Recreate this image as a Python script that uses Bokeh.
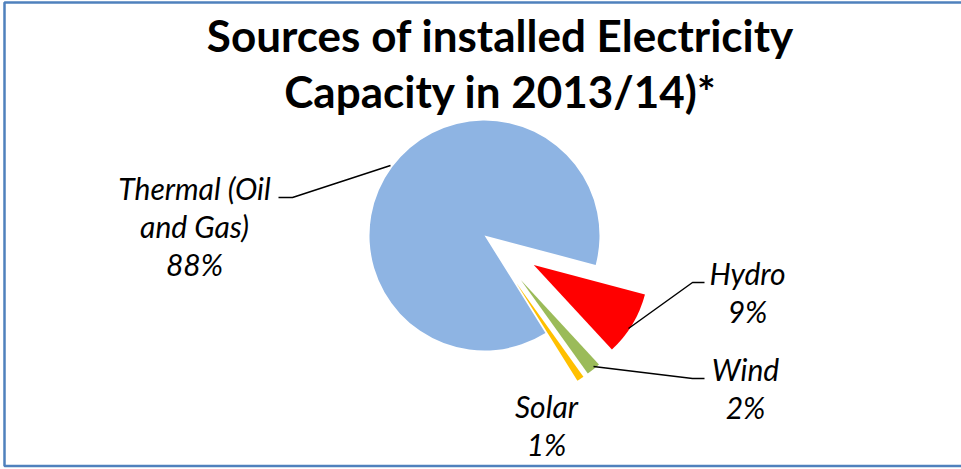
import math
from bokeh.plotting import figure
from bokeh.models import Range1d, ColumnDataSource
from bokeh.core.properties import value
from bokeh.embed import file_html
from bokeh.resources import INLINE

# ---- data ----
categories = ["Thermal (Oil and Gas)", "Hydro", "Wind", "Solar"]
label_lines = [["Thermal (Oil", "and Gas)"], ["Hydro"], ["Wind"], ["Solar"]]
shares = [88, 9, 2, 1]
colors = ["#8EB4E3", "#FF0000", "#9BBB59", "#FFC000"]
title_lines = ["Sources of installed Electricity", "Capacity in 2013/14)*"]

# ---- layout ----
W, H = 961, 469
def Y(y):
    return H - y

CX, CY, R = 484, 235, 115
START_DEG = 302.0          # first slice angle (math degrees), clockwise
EXPLODE = [0.0, 0.5, 0.5, 0.5]

p = figure(width=W, height=H, output_backend="svg", toolbar_location=None,
           x_range=Range1d(0, W), y_range=Range1d(0, H),
           x_axis_location=None, y_axis_location=None, min_border=0,
           background_fill_color="white", border_fill_color="white")
p.outline_line_color = None
p.grid.visible = False

# pie slices
total = float(sum(shares))
xs, ys, sa, ea = [], [], [], []
cur = START_DEG
for s, ex in zip(shares, EXPLODE):
    span = 360.0 * s / total
    start = cur
    end = cur - span
    mid = math.radians((start + end) / 2.0)
    xs.append(CX + ex * R * math.cos(mid))
    ys.append(Y(CY) + ex * R * math.sin(mid))
    sa.append(math.radians(start))
    ea.append(math.radians(end))
    cur = end

src = ColumnDataSource(dict(x=xs, y=ys, start=sa, end=ea, color=colors, cat=categories))
p.wedge(x="x", y="y", radius=R, start_angle="start", end_angle="end",
        direction="clock", fill_color="color", line_color=None, source=src)

# title
for i, t in enumerate(title_lines):
    p.text(x=[500], y=[Y(34 + 56 * i)], text=[t], text_font=value("Lato"),
           text_font_size=value("44px"), text_font_style="bold",
           text_align="center", text_baseline="alphabetic", text_color="black")

# data labels
anchors = [(194, 197), (747, 282), (745, 378), (546, 415)]
LS = 38
for (ax, ay), lines, s in zip(anchors, label_lines, shares):
    all_lines = lines + [f"{s}%"]
    for j, t in enumerate(all_lines):
        p.text(x=[ax], y=[Y(ay - 10 + LS * j)], text=[t], text_font=value("Lato"),
               text_font_size=value("30px"), text_font_style="italic",
               text_align="center", text_baseline="alphabetic", text_color="black")

# leader lines
leaders = [
    [(278, 197), (292, 197), (390, 165)],
    [(704, 282), (692, 282), (628, 328)],
    [(704, 378), (692, 378), (593, 366)],
]
for pts in leaders:
    p.line(x=[a for a, b in pts], y=[Y(b) for a, b in pts], line_color="black", line_width=1.5)

# chart border (right edge lies outside the picture)
p.line(x=[970, 4, 4, 970], y=[Y(2), Y(2), Y(465.5), Y(465.5)],
       line_color="#4F81BD", line_width=2.5)

open("out.html", "w").write(file_html(p, INLINE))
